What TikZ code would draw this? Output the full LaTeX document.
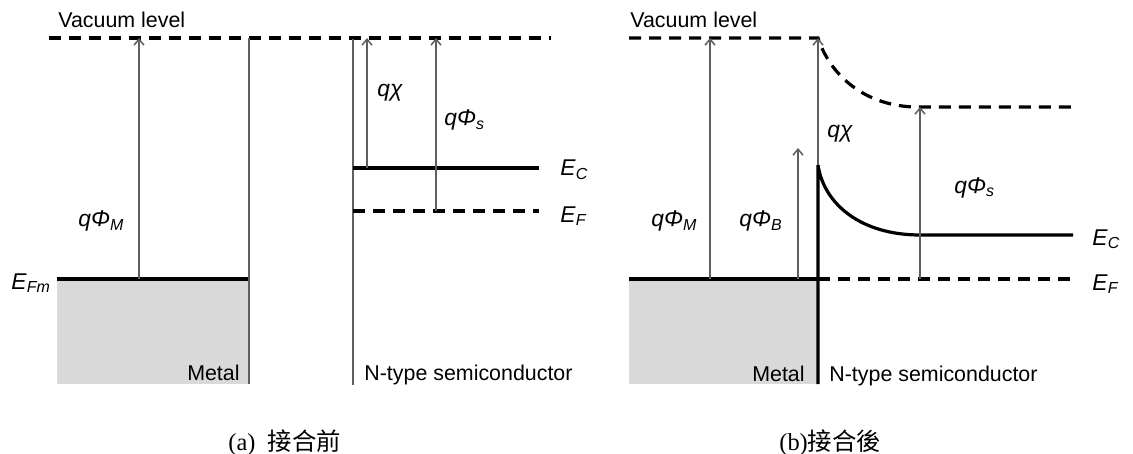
\documentclass[tikz,border=0pt]{standalone}
\usepackage{fontspec}
\setmainfont{Liberation Sans}
\newfontfamily\capfont{Liberation Serif}
\newfontfamily\cjkfont{Noto Sans CJK TC}
\usetikzlibrary{arrows.meta}
\definecolor{linegray}{RGB}{95,95,95}
\definecolor{metalfill}{RGB}{217,217,217}
\newcommand{\qsym}[2]{\textit{q#1}\textsubscript{\textit{#2}}}
\newcommand{\enlev}[1]{\textit{E}\textsubscript{\textit{#1}}}
\tikzset{
 lv/.style={line width=1.6pt},
 vl/.style={line width=1.6pt,dash pattern=on 6pt off 4pt},
 tl/.style={line width=0.75pt,draw=linegray},
 ar/.style={tl,-{Straight Barb[length=3pt,width=5pt]}},
 tx/.style={inner sep=0pt,anchor=base west,font=\fontsize{10.7}{12}\selectfont},
 sy/.style={tx,font=\fontsize{11.4}{13}\selectfont},
 captxt/.style={inner sep=0pt,anchor=base west,font=\capfont\fontsize{12.2}{14}\selectfont}}

\begin{document}
\begin{tikzpicture}[x=0.5pt,y=-0.5pt]
 \useasboundingbox (0,0) rectangle (1133,454);

 % (a) before contact
 \fill[metalfill] (57,279) rectangle (249,384);
 \draw[vl] (49,38)--(551,38);
 \draw[lv] (57,279)--(249,279);
 \draw[tl] (249,38)--(249,384) (353,39)--(353,385);
 \draw[lv] (353,168)--(539,168);
 \draw[vl] (353,211)--(539,211);
 \coordinate (fmA) at (139,279);
 \coordinate (vacA) at (139,38);
 \coordinate (ecA) at (367,168);
 \coordinate (vacB) at (367,38);
 \coordinate (efA) at (436,211);
 \coordinate (vacC) at (436,38);
 \draw[ar] (fmA)--(vacA);
 \draw[ar] (ecA)--(vacB);
 \draw[ar] (efA)--(vacC);
 \node[tx] (vacLa) at (58,27.5) {Vacuum level};
 \node[sy] (efmLa) at (11,289) {\enlev{Fm}};
 \node[sy] (phiMa) at (78,227) {\qsym{Φ}{M}};
 \node[sy] (chia) at (377,97) {\textit{qχ}};
 \node[sy] (phiSa) at (444,126) {\qsym{Φ}{s}};
 \node[sy] (ecLa) at (560,176) {\enlev{C}};
 \node[sy] (efLa) at (560,222) {\enlev{F}};
 \node[tx,anchor=base east] (metLa) at (240,380) {Metal};
 \node[tx] (semLa) at (364,380) {N-type semiconductor};
 \node[captxt] (capa) at (228,450) {(a)\ \ {\cjkfont 接合前}};

 % (b) after contact
 \fill[metalfill] (629,279) rectangle (818,384);
 \draw[vl] (629,38)--(818,38) .. controls (830,75) and (865,107) .. (918,107)--(1072,107);
 \draw[lv] (629,279)--(818,279);
 \draw[vl] (818,279)--(1072,279);
 \draw[lv] (818,384)--(818,165) .. controls (824,205) and (862,235) .. (920,235)--(1073,235);
 \coordinate (fmB) at (710,279);
 \coordinate (vacD) at (710,38);
 \coordinate (fmC) at (798,279);
 \coordinate (barB) at (798,148);
 \coordinate (ecB) at (818,165);
 \coordinate (vacE) at (818,38);
 \coordinate (efB) at (920,279);
 \coordinate (vacF) at (920,107);
 \draw[ar] (fmB)--(vacD);
 \draw[ar] (fmC)--(barB);
 \draw[ar] (ecB)--(vacE);
 \draw[ar] (efB)--(vacF);
 \node[tx] (vacLb) at (630,27.5) {Vacuum level};
 \node[sy] (phiMb) at (651,227) {\qsym{Φ}{M}};
 \node[sy] (phiBb) at (739,227) {\qsym{Φ}{B}};
 \node[sy] (chib) at (827,138) {\textit{qχ}};
 \node[sy] (phiSb) at (954,193) {\qsym{Φ}{s}};
 \node[sy] (ecLb) at (1092,245) {\enlev{C}};
 \node[sy] (efLb) at (1092,290) {\enlev{F}};
 \node[tx,anchor=base east] (metLb) at (805,381) {Metal};
 \node[tx] (semLb) at (829,381) {N-type semiconductor};
 \node[captxt] (capb) at (779,450) {(b){\cjkfont 接合後}};
\end{tikzpicture}
\end{document}
